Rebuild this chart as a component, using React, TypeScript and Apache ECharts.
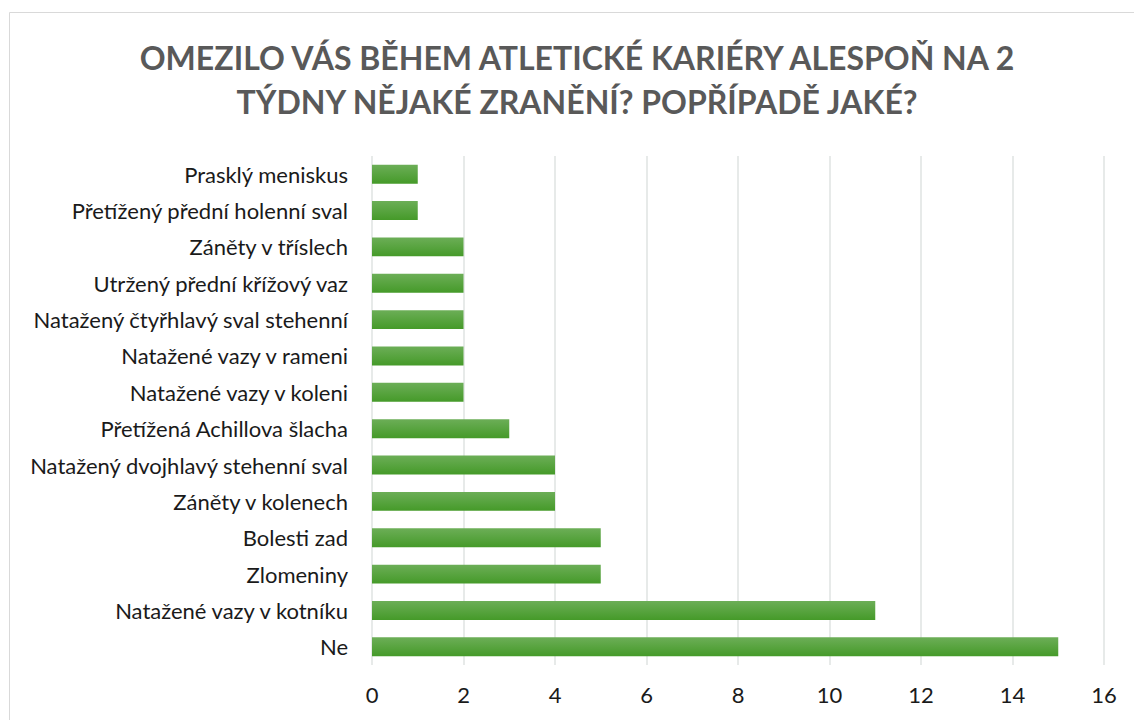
import React, { useEffect, useRef } from "react";
import * as echarts from "echarts";

const categories = [
  "Ne",
  "Natažené vazy v kotníku",
  "Zlomeniny",
  "Bolesti zad",
  "Záněty v kolenech",
  "Natažený dvojhlavý stehenní sval",
  "Přetížená Achillova šlacha",
  "Natažené vazy v koleni",
  "Natažené vazy v rameni",
  "Natažený čtyřhlavý sval stehenní",
  "Utržený přední křížový vaz",
  "Záněty v tříslech",
  "Přetížený přední holenní sval",
  "Prasklý meniskus",
];
const values = [15, 11, 5, 5, 4, 4, 3, 2, 2, 2, 2, 2, 1, 1];
const titleLines = [
  "OMEZILO VÁS BĚHEM ATLETICKÉ KARIÉRY ALESPOŇ NA 2",
  "TÝDNY NĚJAKÉ ZRANĚNÍ? POPŘÍPADĚ JAKÉ?",
];

export default function App() {
  const ref = useRef<HTMLDivElement>(null);
  useEffect(() => {
    const chart = echarts.init(ref.current!, null, { renderer: "svg" });
    const font = "Lato, 'Open Sans', sans-serif";
    chart.setOption({
      animation: false,
      graphic: [
        {
          type: "rect",
          shape: { x: 9.5, y: 12.5, width: 1140, height: 720 },
          style: { fill: "none", stroke: "#d9d9d9", lineWidth: 1 },
          silent: true,
        },
        {
          type: "text",
          x: 577,
          y: 35,
          style: {
            text: titleLines.join("\n"),
            fontFamily: font,
            fontWeight: "bold",
            fontSize: 32,
            lineHeight: 44,
            fill: "#595959",
            align: "center",
          },
        },
      ],
      grid: { left: 372, right: 30, top: 156, bottom: 55, containLabel: false },
      xAxis: {
        type: "value",
        min: 0,
        max: 16,
        interval: 2,
        axisLine: { show: false },
        axisTick: { show: false },
        splitLine: { lineStyle: { color: "#dfe3e2", width: 1.5 } },
        axisLabel: { fontFamily: font, fontSize: 22, color: "#1a1a1a", margin: 18 },
      },
      yAxis: {
        type: "category",
        data: categories,
        axisLine: { show: false },
        axisTick: { show: false },
        axisLabel: { fontFamily: font, fontSize: 22, color: "#1a1a1a", margin: 24 },
      },
      series: [
        {
          type: "bar",
          data: values,
          barCategoryGap: "48%",
          itemStyle: {
            color: new echarts.graphic.LinearGradient(0, 0, 0, 1, [
              { offset: 0, color: "#6cae57" },
              { offset: 1, color: "#459a29" },
            ]),
          },
        },
      ],
    });
    return () => chart.dispose();
  }, []);
  return (
    <div
      ref={ref}
      style={{ position: "absolute", left: 0, top: 0, width: 1134, height: 720 }}
    />
  );
}
